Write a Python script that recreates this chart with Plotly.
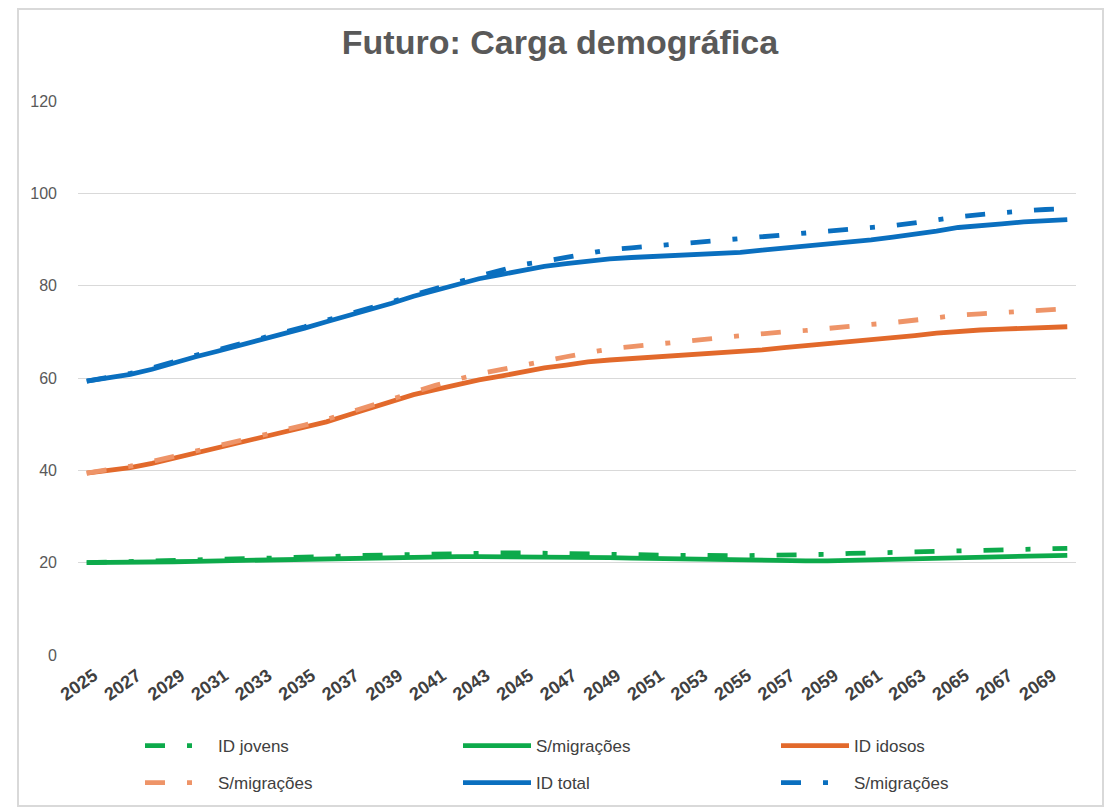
import plotly.graph_objects as go

anos = list(range(2025, 2071))

jovens_dashdot = [20.0, 20.1, 20.2, 20.3, 20.4, 20.5, 20.7, 20.8, 20.9, 21.0,
                  21.1, 21.3, 21.5, 21.6, 21.8, 21.9, 22.0, 22.1, 22.1, 22.1,
                  22.1, 22.0, 22.0, 21.9, 21.9, 21.8, 21.7, 21.6, 21.6, 21.5,
                  21.5, 21.6, 21.6, 21.7, 21.8, 22.0, 22.1, 22.3, 22.4, 22.5,
                  22.6, 22.7, 22.8, 22.9, 23.0, 23.1]
jovens_solid = [20.0, 20.0, 20.0, 20.1, 20.2, 20.3, 20.4, 20.4, 20.5, 20.5,
                20.6, 20.7, 20.8, 20.9, 21.0, 21.1, 21.2, 21.3, 21.3, 21.3,
                21.3, 21.3, 21.3, 21.2, 21.1, 21.0, 20.9, 20.8, 20.7, 20.6,
                20.5, 20.4, 20.4, 20.4, 20.4, 20.5, 20.6, 20.7, 20.9, 21.0,
                21.1, 21.2, 21.4, 21.5, 21.6, 21.6]
idosos = [39.4, 39.9, 40.6, 41.5, 42.6, 43.8, 44.9, 46.0, 47.0, 48.1,
          49.3, 50.5, 52.0, 53.4, 54.9, 56.4, 57.5, 58.6, 59.6, 60.4,
          61.3, 62.2, 62.8, 63.5, 63.9, 64.2, 64.5, 64.8, 65.0, 65.3,
          65.7, 66.1, 66.6, 67.0, 67.4, 67.8, 68.2, 68.7, 69.2, 69.7,
          70.1, 70.4, 70.6, 70.8, 71.0, 71.1]
idosos_smig = [39.4, 40.1, 40.9, 41.9, 43.0, 44.2, 45.3, 46.4, 47.5, 48.6,
               49.8, 51.0, 52.5, 54.0, 55.5, 57.1, 58.4, 59.7, 60.9, 61.8,
               62.8, 63.8, 64.6, 65.5, 66.3, 66.8, 67.2, 67.8, 68.2, 68.7,
               69.2, 69.6, 70.0, 70.3, 70.8, 71.2, 71.6, 72.0, 72.6, 73.1,
               73.6, 73.9, 74.2, 74.5, 74.8, 75.0]
total = [59.3, 60.0, 60.8, 61.9, 63.3, 64.6, 65.8, 67.0, 68.2, 69.5,
         70.8, 72.2, 73.5, 74.8, 76.2, 77.7, 79.0, 80.4, 81.5, 82.4,
         83.4, 84.2, 84.8, 85.4, 85.8, 86.1, 86.3, 86.5, 86.7, 86.9,
         87.2, 87.7, 88.1, 88.5, 89.0, 89.5, 89.9, 90.5, 91.1, 91.8,
         92.6, 93.1, 93.4, 93.8, 94.1, 94.3]
total_smig = [59.3, 60.1, 61.0, 62.2, 63.6, 64.9, 66.1, 67.3, 68.5, 69.8,
              71.1, 72.5, 73.8, 75.1, 76.5, 78.0, 79.4, 80.8, 82.1, 83.3,
              84.6, 85.3, 86.1, 87.0, 87.8, 88.2, 88.6, 89.0, 89.4, 89.8,
              90.1, 90.5, 90.9, 91.3, 91.7, 92.2, 92.5, 93.0, 93.6, 94.3,
              94.9, 95.4, 95.9, 96.2, 96.5, 96.7]

DASHDOT = "20px,22px,5px,22px"

# (nome, valores, cor, tipo de linha, linha da legenda)
series = [
    ("ID jovens", jovens_dashdot, "#0DAA4B", DASHDOT, "legend"),
    ("S/migrações", jovens_solid, "#0DAA4B", "solid", "legend"),
    ("ID idosos", idosos, "#E2692B", "solid", "legend"),
    ("S/migrações", idosos_smig, "#EE9468", DASHDOT, "legend2"),
    ("ID total", total, "#0A6FBF", "solid", "legend2"),
    ("S/migrações", total_smig, "#0A6FBF", DASHDOT, "legend2"),
]

fig = go.Figure()
for name, vals, cor, dash, leg in series:
    fig.add_trace(go.Scatter(x=anos, y=vals, name=name, mode="lines", legend=leg,
                             line=dict(color=cor, width=4.8, dash=dash)))

# a página tem 8px de margem no body
OFF = 8
W, H = 1115, 809
L, R, T, B = 78 - OFF, 47, 101 - OFF, 162
pw, ph = W - L - R, H - T - B


def px_x(x):
    return (x - OFF - L) / pw


def px_y(y):
    return (H - B - (y - OFF)) / ph


fig.add_shape(type="rect", xref="paper", yref="paper",
              x0=px_x(18), x1=px_x(1103), y0=px_y(806), y1=px_y(9),
              line=dict(color="#D9D9D9", width=2), layer="below")

leg_style = dict(orientation="h", xanchor="left", yanchor="middle",
                 entrywidth=235, entrywidthmode="pixels", itemwidth=68,
                 font=dict(size=17, color="#404040"), bgcolor="rgba(0,0,0,0)")

fig.update_layout(
    width=W, height=H,
    margin=dict(l=L, r=R, t=T, b=B, autoexpand=False),
    paper_bgcolor="white", plot_bgcolor="white",
    font=dict(family="Liberation Sans, Arial, sans-serif", color="#595959"),
    title=dict(text="Futuro: Carga demográfica", xref="container",
               x=(560 - OFF) / W, xanchor="center",
               y=1 - (42 - OFF) / H, yanchor="middle",
               font=dict(size=34, color="#595959", weight="bold")),
    showlegend=True,
    legend=dict(x=px_x(140), y=px_y(746), **leg_style),
    legend2=dict(x=px_x(140), y=px_y(783), **leg_style),
    xaxis=dict(range=[2024.6, 2070.4], tickvals=anos[::2], tickangle=-35,
               showgrid=False, showline=False, zeroline=False, ticks="",
               automargin=False, ticklabelshift=7, ticklabelstandoff=6,
               tickfont=dict(size=18, color="#404040", weight="bold")),
    yaxis=dict(range=[0, 120], dtick=20, showgrid=True, gridcolor="#D9D9D9",
               gridwidth=1, zeroline=False, showline=False, ticks="",
               automargin=False, ticklabelstandoff=20,
               tickfont=dict(size=16, color="#595959")),
)

fig.write_html("out.html")
